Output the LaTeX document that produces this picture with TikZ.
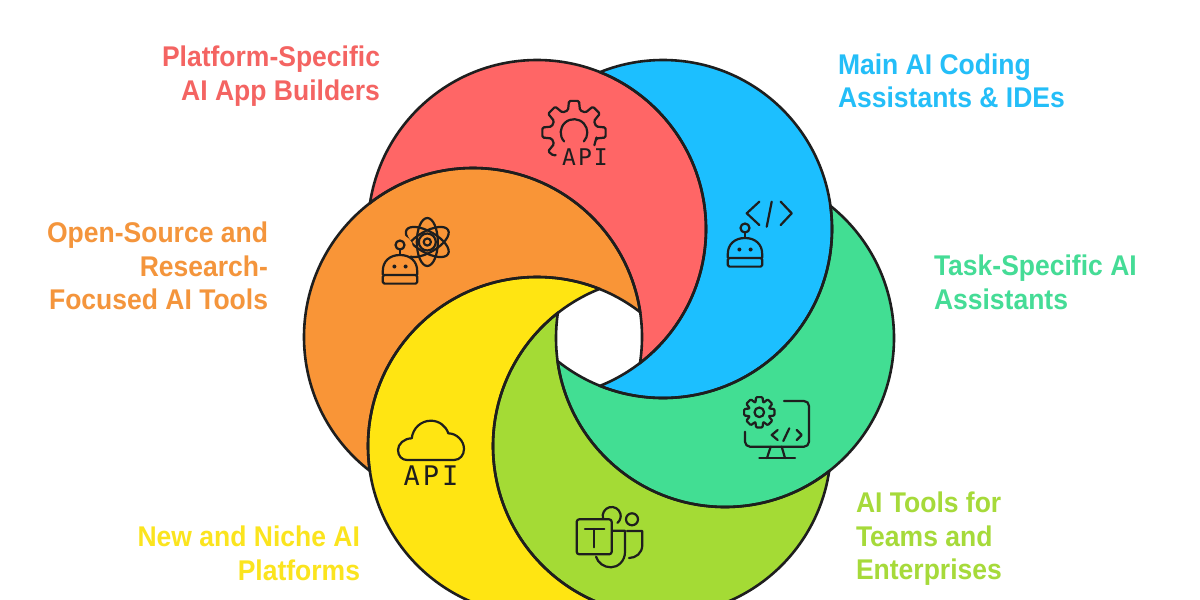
\documentclass[tikz,border=0pt]{standalone}
\usepackage{fontspec}
\setmainfont[FakeStretch=0.93]{Liberation Sans}
\newfontfamily\apifont{DejaVu Sans Mono}
\definecolor{cred}{HTML}{FF6666}
\definecolor{cblue}{HTML}{1CBFFF}
\definecolor{cteal}{HTML}{42DE93}
\definecolor{clime}{HTML}{A4DB35}
\definecolor{cyel}{HTML}{FFE512}
\definecolor{corg}{HTML}{F99537}
\definecolor{tred}{HTML}{F46462}
\definecolor{tblue}{HTML}{24BEF8}
\definecolor{tteal}{HTML}{45DC96}
\definecolor{tlime}{HTML}{A6DA3A}
\definecolor{tyel}{HTML}{FBE41E}
\definecolor{torg}{HTML}{F4953C}
\definecolor{ink}{HTML}{1E1E1E}
\tikzset{
  icon/.style={draw=ink,line width=2.2pt,line cap=round,line join=round},
  ring/.style={draw=ink,line width=2.6pt},
  label/.style={font=\fontsize{28.5}{33.6}\selectfont\bfseries,inner sep=0pt,outer sep=0pt},
  apilabel/.style={text=ink,inner sep=0pt},
}
% crescent: circle #1 minus circle #2
\newcommand{\crescentfill}[3]{%
  \begin{scope}[even odd rule]
    \clip (-100,-100) rectangle (1300,700) #2 circle (169);
    \fill[#3,nonzero rule] #1 circle (169);
  \end{scope}}
\newcommand{\crescentline}[2]{%
  \begin{scope}[even odd rule]
    \clip (-100,-100) rectangle (1300,700) #2 circle (169);
    \draw[ring] #1 circle (169);
  \end{scope}
  \begin{scope}
    \clip #1 circle (169);
    \draw[ring] #2 circle (169);
  \end{scope}}
\newcommand{\robot}[2]{%
  \begin{scope}[shift={(#1,#2)}]
    \draw[icon] (0,0) circle (4.5);
    \draw[icon] (0,4.5) -- (0,10);
    \draw[icon] (-17.2,29.5) -- (-17.2,26) .. controls (-17.2,16) and (-10,10) .. (0,10) .. controls (10,10) and (17.2,16) .. (17.2,26) -- (17.2,29.5);
    \draw[icon,rounded corners=1.5] (-17.2,30) -- (-17.2,38.6) -- (17.2,38.6) -- (17.2,30) -- cycle;
    \fill[ink] (-5.6,21.5) circle (2) (5.6,21.5) circle (2);
  \end{scope}}
\begin{document}
\begin{tikzpicture}[x=1pt,y=-1pt]
\path[use as bounding box,clip] (0,0) rectangle (1200,600);
\fill[white] (0,0) rectangle (1200,600);
\coordinate (R) at (537,229);
\coordinate (B) at (663,229);
\coordinate (T) at (725,338);
\coordinate (L) at (662,446);
\coordinate (Y) at (537,446);
\coordinate (O) at (473,337);
\crescentfill{(R)}{(O)}{cred}
\crescentfill{(B)}{(R)}{cblue}
\crescentfill{(T)}{(B)}{cteal}
\crescentfill{(L)}{(T)}{clime}
\crescentfill{(Y)}{(L)}{cyel}
\crescentfill{(O)}{(Y)}{corg}
\crescentline{(R)}{(O)}
\crescentline{(B)}{(R)}
\crescentline{(T)}{(B)}
\crescentline{(L)}{(T)}
\crescentline{(Y)}{(L)}
\crescentline{(O)}{(Y)}
% labels
\node[label,text=tred,anchor=north east,align=right] (l1) at (380,46) {Platform-Specific\\AI App Builders};
\node[label,text=tblue,anchor=north west,align=left] (l2) at (838,53.5) {Main AI Coding\\Assistants \& IDEs};
\node[label,text=torg,anchor=north east,align=right] (l3) at (268,222) {Open-Source and\\Research-\\Focused AI Tools};
\node[label,text=tteal,anchor=north west,align=left] (l4) at (934,255) {Task-Specific AI\\Assistants};
\node[label,text=tyel,anchor=north east,align=right] (l5) at (360,526) {New and Niche AI\\Platforms};
\node[label,text=tlime,anchor=north west,align=left] (l6) at (856,492) {AI Tools for\\Teams and\\Enterprises};
% red gear API
\begin{scope}[shift={(574,132.5)}]
  \draw[icon,rounded corners=1.4] (32:24) -- (16:23)
    foreach \a in {0,-45,-90,-135,-180} { -- (\a+15:23) -- (\a+9:32) -- (\a-9:32) -- (\a-15:23) }
    -- (-210:23) -- (-216:32) -- (-228:31) -- (-231:29);
  \draw[icon] (138:13.3) arc (138:402:13.3);
\end{scope}
\node[apilabel,font=\apifont\fontsize{23}{23}\selectfont] (api1) at (585,157) {A\kern2pt P\kern2pt I};
% blue robot and code
\robot{745}{228}
\draw[icon] (759.3,201.7) -- (746.7,213.3) -- (759.3,225);
\draw[icon] (771.7,201.7) -- (766.7,226.7);
\draw[icon] (780.7,201.7) -- (791.7,213.3) -- (780.7,225);
% atom and orange robot
\begin{scope}[shift={(427.3,242)}]
  \draw[icon] (0,0) circle (8.5);
  \draw[icon] (0,0) circle (3.6);
  \draw[icon] (0,0) ellipse (10.5 and 24);
  \draw[icon,rotate=60] (0,0) ellipse (10.5 and 24);
  \draw[icon,rotate=-60] (0,0) ellipse (10.5 and 24);
\end{scope}
\fill[corg] (400,248) circle (13);
\robot{400}{245}
% monitor
\begin{scope}[shift={(759.3,412.3)}]
  \draw[icon,rounded corners=1] (25:11)
    foreach \a in {45,90,...,360} { -- (\a-20:11) -- (\a-12:15.5) -- (\a+12:15.5) -- (\a+20:11) } -- cycle;
  \draw[icon] (0,0) circle (4.8);
\end{scope}
\draw[icon,rounded corners=5] (784,401) -- (809,401) -- (809,446.7) -- (745,446.7) -- (745,431.7);
\draw[icon] (770.7,446.7) -- (767,458);
\draw[icon] (781.7,446.7) -- (785,458);
\draw[icon] (759.3,458) -- (795,458);
\draw[icon] (777.7,430) -- (771.7,435) -- (777.7,440);
\draw[icon] (789.3,428.3) -- (783.3,441);
\draw[icon] (796.7,430) -- (801.7,435) -- (796.7,440);
% cloud
\draw[icon] (407,460) .. controls (402,460) and (398,456) .. (398,450) .. controls (398,444) and (404,438.5) .. (411.7,438.3)
  .. controls (413,428) and (421,420.7) .. (431,420.7) .. controls (439,420.7) and (446,426) .. (448.3,433.3)
  .. controls (457,433.5) and (464,441) .. (464,449) .. controls (464,455) and (460,460) .. (454,460) -- cycle;
\node[apilabel,font=\apifont\fontsize{27}{27}\selectfont] (api2) at (431,476) {A\kern3pt P\kern3pt I};
% teams
\draw[icon,rounded corners=2.5] (576.7,519.3) rectangle (611.7,554.3);
\draw[icon] (585,529) -- (604.3,529);
\draw[icon] (594.3,529) -- (594.3,547.3);
\draw[icon] (603,518.3) arc (165:410:9);
\draw[icon] (632,519.3) circle (6);
\draw[icon] (627,531) -- (642.3,531) -- (642.3,545) .. controls (642.3,553) and (636,558) .. (629,558);
\draw[icon] (612.7,530.7) -- (625,530.7) -- (625,552) .. controls (625,561) and (618,567.3) .. (611,567.3) .. controls (604,567.3) and (598,563) .. (596,556.7);
\end{tikzpicture}
\end{document}
